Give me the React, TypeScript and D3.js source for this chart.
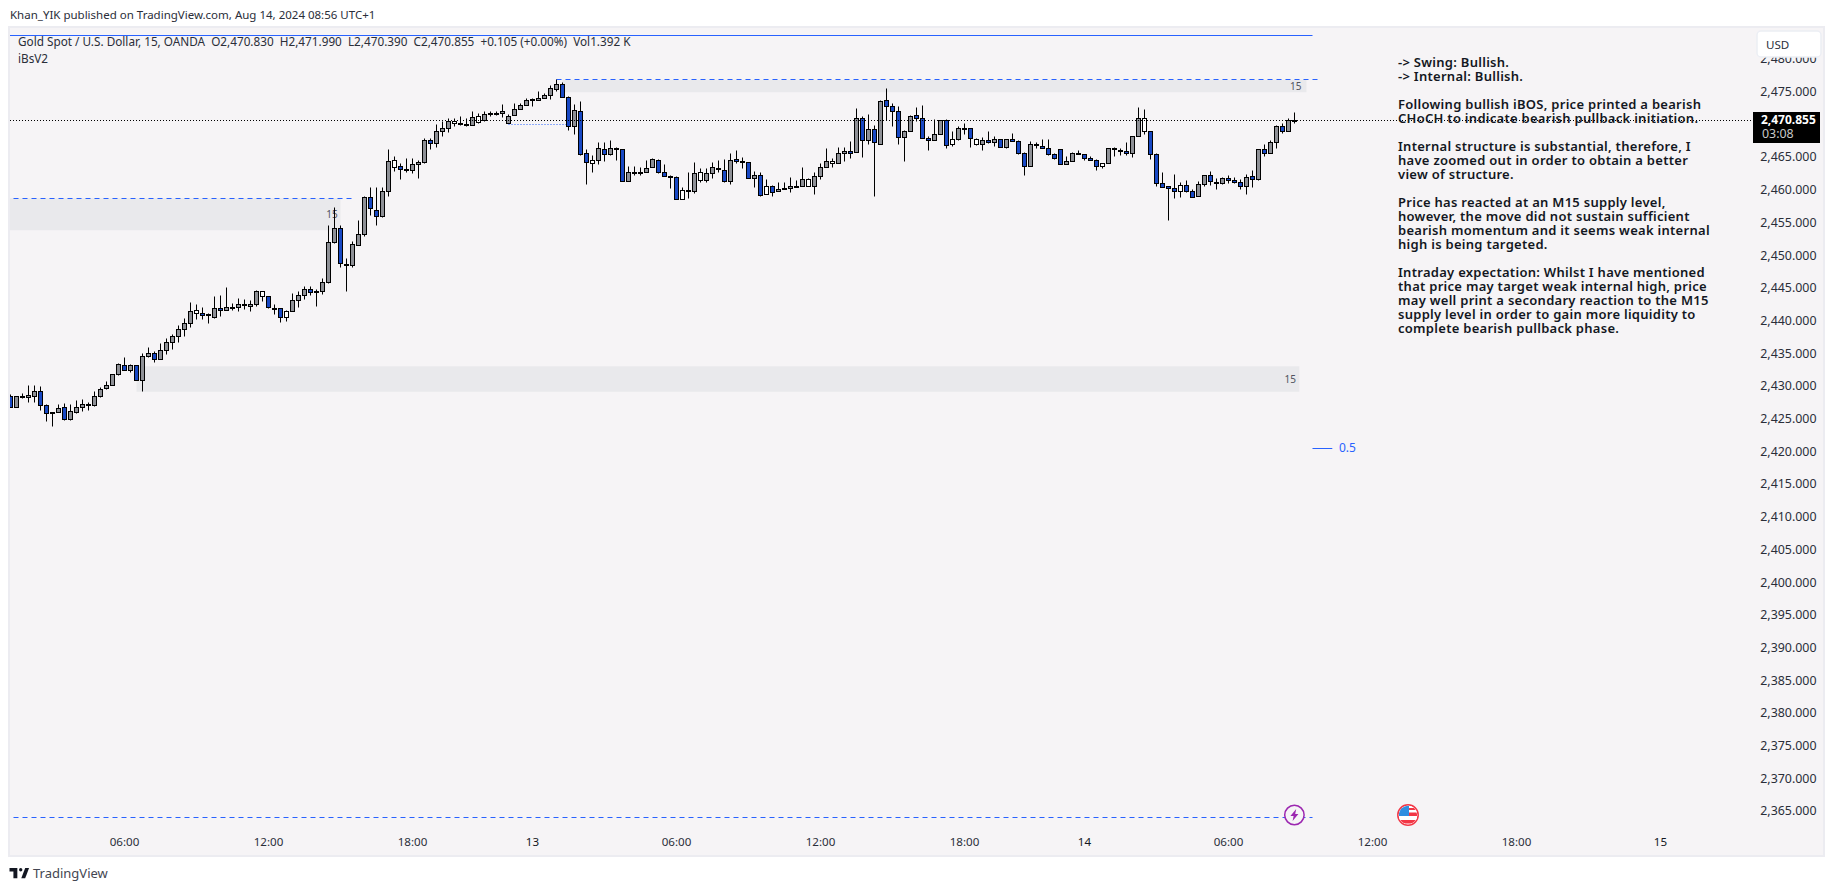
import { useEffect, useRef } from 'react';
import * as d3 from 'd3';

const width = 1835;
const height = 891;

// 15 minute bars. First bar is bar index -1 (cut by the pane edge)
const opens = [
  2428.6,2426.9,2428.6,2428.4,2428.6,2429.4,2427.2,2426.2,2426.2,2426.9,
  2425.1,2426.2,2426.9,2427.3,2427.2,2428.6,2429.8,2430.3,2432.0,2433.3,
  2432.6,2433.3,2431.0,2434.7,2435.2,2434.3,2435.6,2436.9,2437.8,2438.8,
  2439.8,2441.3,2441.3,2441.0,2440.7,2442.1,2441.8,2442.1,2442.2,2442.7,
  2442.3,2442.7,2443.9,2443.9,2442.0,2442.1,2440.6,2441.6,2443.3,2444.0,
  2445.0,2444.7,2444.7,2446.0,2452.2,2454.3,2448.8,2448.6,2451.7,2453.4,
  2459.0,2457.0,2456.1,2459.9,2463.6,2463.8,2463.3,2463.2,2464.1,2464.4,
  2467.7,2467.3,2469.1,2469.6,2470.3,2470.3,2470.2,2470.0,2470.5,2470.8,
  2471.9,2471.8,2471.9,2470.3,2471.6,2472.5,2473.1,2474.0,2473.9,2474.2,
  2474.6,2475.5,2476.3,2474.3,2469.9,2472.2,2465.8,2464.2,2464.7,2466.4,
  2465.6,2466.5,2466.4,2461.5,2462.8,2462.8,2462.9,2463.6,2464.7,2462.9,
  2462.2,2462.1,2458.7,2460.1,2460.0,2461.6,2461.6,2462.7,2463.5,2463.2,
  2461.5,2464.8,2464.5,2464.4,2461.9,2462.4,2459.5,2460.7,2460.0,2460.4,
  2460.4,2460.7,2460.7,2460.7,2460.7,2462.2,2463.6,2464.2,2464.2,2465.8,
  2466.1,2465.9,2471.1,2467.7,2469.4,2467.1,2473.9,2472.9,2472.2,2468.2,
  2469.1,2471.6,2471.1,2468.1,2467.7,2468.7,2470.8,2467.1,2467.9,2469.6,
  2469.6,2467.1,2467.1,2467.7,2467.4,2467.9,2466.7,2467.9,2467.6,2465.8,
  2463.8,2467.1,2466.8,2466.5,2465.6,2466.4,2464.1,2464.5,2465.8,2465.6,
  2465.0,2464.7,2463.8,2464.2,2466.5,2466.2,2466.1,2465.8,2468.4,2469.1,
  2469.1,2465.6,2461.2,2460.7,2460.4,2460.0,2460.9,2460.0,2459.2,2461.0,
  2462.4,2461.3,2461.2,2461.9,2461.6,2461.3,2460.7,2462.2,2461.8,2466.4,
  2465.8,2467.4,2469.9,2469.1,2470.83,
];

const closes = [
  2426.9,2428.6,2428.4,2428.8,2429.4,2427.2,2426.0,2426.1,2426.8,2425.0,
  2426.3,2426.9,2427.4,2427.4,2428.6,2429.7,2430.3,2432.0,2433.5,2432.6,
  2433.3,2431.0,2434.7,2435.2,2434.2,2435.6,2436.9,2437.8,2438.8,2439.8,
  2441.6,2441.8,2441.0,2441.1,2442.1,2441.8,2442.2,2442.2,2442.7,2442.5,
  2442.7,2444.7,2444.7,2442.2,2442.1,2440.6,2441.6,2443.3,2444.0,2445.0,
  2444.5,2444.5,2446.0,2452.2,2454.3,2448.9,2448.6,2451.8,2453.4,2459.0,
  2457.4,2456.1,2459.9,2464.5,2464.7,2463.3,2463.2,2464.1,2464.4,2467.7,
  2467.3,2469.1,2469.6,2470.6,2470.6,2470.3,2470.2,2471.3,2471.4,2471.7,
  2471.7,2471.9,2472.2,2471.4,2472.5,2473.1,2473.9,2474.0,2474.2,2474.6,
  2475.7,2476.3,2474.3,2469.9,2472.3,2465.6,2464.4,2464.7,2466.5,2465.6,
  2466.5,2466.4,2461.5,2462.9,2462.9,2462.9,2463.5,2464.8,2462.9,2462.2,
  2462.1,2458.7,2460.1,2460.0,2462.7,2462.9,2462.7,2463.6,2463.3,2461.5,
  2464.7,2464.5,2464.4,2461.9,2462.4,2459.3,2460.7,2459.8,2460.3,2460.4,
  2460.7,2460.7,2461.8,2461.8,2462.2,2463.6,2464.5,2464.5,2465.8,2466.1,
  2465.8,2471.1,2467.7,2469.4,2467.4,2473.7,2472.9,2472.2,2468.2,2469.1,
  2471.4,2471.1,2468.1,2467.7,2468.7,2470.8,2467.0,2467.9,2469.6,2469.5,
  2468.1,2467.9,2467.7,2467.4,2467.9,2466.7,2467.9,2467.6,2465.8,2463.8,
  2467.1,2467.0,2466.5,2465.6,2465.0,2464.1,2464.5,2465.8,2465.7,2465.0,
  2464.7,2463.8,2464.2,2466.5,2466.4,2466.1,2465.8,2468.4,2471.1,2471.1,
  2465.6,2461.2,2460.6,2460.4,2460.0,2460.9,2460.0,2459.0,2461.0,2462.4,
  2461.5,2461.3,2461.9,2461.6,2461.3,2460.7,2462.1,2461.8,2466.4,2465.8,
  2467.4,2469.9,2469.1,2470.8,2470.855,
];

const highs = [
  2428.9,2428.6,2429.1,2430.2,2430.3,2430.1,2427.4,2426.2,2427.3,2427.5,
  2427.4,2428.0,2428.1,2427.6,2429.4,2430.0,2430.8,2432.0,2433.6,2434.6,
  2433.5,2433.3,2435.2,2436.1,2435.5,2436.7,2437.5,2438.1,2439.4,2440.5,
  2443.0,2442.7,2442.2,2441.3,2443.9,2444.0,2445.2,2442.8,2443.5,2443.4,
  2443.2,2444.8,2444.7,2443.9,2442.7,2442.1,2441.8,2444.3,2444.7,2445.4,
  2445.4,2445.0,2446.6,2454.8,2457.5,2454.8,2449.7,2452.3,2455.5,2459.2,
  2460.6,2460.6,2460.6,2466.3,2465.3,2464.2,2465.0,2465.0,2464.7,2468.0,
  2468.0,2470.1,2470.6,2471.1,2471.1,2471.4,2471.1,2472.2,2471.9,2472.2,
  2472.2,2472.2,2473.3,2471.7,2473.4,2473.4,2474.2,2474.2,2475.2,2474.9,
  2476.2,2477.1,2476.6,2474.5,2473.3,2473.7,2466.4,2465.5,2467.4,2467.4,
  2467.7,2466.7,2466.4,2463.8,2463.8,2463.6,2464.7,2465.0,2464.8,2464.1,
  2462.4,2462.2,2460.6,2462.9,2464.4,2463.5,2463.5,2464.4,2464.7,2464.8,
  2465.8,2466.2,2465.1,2464.4,2463.0,2462.9,2461.8,2460.9,2461.3,2461.3,
  2462.1,2461.6,2463.6,2461.9,2462.9,2464.2,2466.5,2465.0,2466.7,2466.7,
  2467.6,2472.6,2471.4,2471.7,2470.0,2473.9,2475.7,2473.4,2472.9,2469.3,
  2471.6,2472.8,2473.1,2468.4,2471.0,2470.8,2471.0,2469.1,2469.9,2470.3,
  2469.6,2468.1,2468.2,2469.1,2468.4,2467.9,2467.9,2468.8,2467.7,2465.9,
  2467.6,2467.4,2467.9,2467.9,2465.8,2466.4,2465.3,2465.9,2466.2,2465.6,
  2465.3,2464.8,2464.2,2466.5,2466.7,2466.5,2467.4,2468.4,2472.7,2472.4,
  2469.1,2465.8,2462.9,2460.7,2462.5,2461.3,2461.6,2460.3,2461.5,2462.4,
  2463.0,2461.9,2462.1,2462.4,2462.1,2461.8,2462.5,2463.2,2466.4,2467.1,
  2467.7,2470.0,2470.3,2471.1,2471.99,
];

const lows = [
  2426.9,2426.9,2428.2,2427.6,2427.7,2426.4,2424.7,2424.0,2426.2,2424.9,
  2424.9,2426.0,2426.3,2426.4,2427.0,2428.4,2429.7,2430.3,2431.8,2432.6,
  2432.3,2431.0,2429.3,2434.6,2433.8,2434.3,2435.0,2435.8,2436.8,2437.7,
  2439.1,2440.3,2440.3,2439.7,2440.5,2440.8,2441.8,2441.7,2441.5,2441.9,
  2441.5,2442.3,2443.1,2442.0,2441.1,2439.9,2440.0,2441.6,2442.2,2443.4,
  2444.0,2442.3,2444.1,2445.8,2452.0,2448.3,2444.6,2448.3,2451.7,2453.0,
  2456.3,2454.7,2455.9,2459.1,2463.0,2461.7,2462.8,2462.6,2461.9,2464.2,
  2466.4,2466.6,2468.3,2468.9,2469.8,2470.0,2469.8,2470.0,2470.3,2470.6,
  2471.4,2471.6,2471.3,2470.3,2471.6,2472.5,2473.1,2472.9,2473.9,2474.2,
  2474.0,2475.2,2474.3,2469.2,2468.6,2465.4,2461.0,2462.8,2464.0,2464.5,
  2465.5,2464.6,2461.5,2461.5,2462.4,2462.4,2462.9,2463.6,2462.6,2462.2,
  2460.4,2458.7,2458.7,2458.9,2459.6,2461.3,2461.3,2461.9,2462.9,2461.3,
  2461.0,2464.2,2463.4,2461.9,2460.5,2459.1,2459.5,2459.1,2460.0,2460.3,
  2459.7,2460.5,2460.7,2460.7,2459.5,2461.7,2463.6,2463.6,2464.2,2464.5,
  2464.9,2465.9,2465.1,2467.1,2459.1,2467.1,2470.8,2469.8,2467.1,2464.5,
  2469.1,2470.6,2468.1,2466.2,2467.7,2468.7,2466.5,2466.8,2467.7,2468.6,
  2466.6,2467.0,2466.2,2467.2,2466.8,2466.7,2466.5,2467.6,2465.6,2462.3,
  2463.8,2466.5,2466.5,2465.5,2464.8,2464.1,2464.1,2464.5,2465.6,2464.6,
  2464.6,2463.1,2463.4,2464.2,2465.2,2465.5,2465.5,2465.1,2468.4,2468.6,
  2464.8,2460.7,2460.6,2455.5,2458.8,2459.0,2459.8,2459.0,2459.2,2460.7,
  2460.9,2460.2,2461.0,2461.1,2461.1,2460.2,2459.4,2460.5,2461.6,2465.3,
  2465.8,2466.5,2468.8,2469.1,2470.39,
];

// bars the picture draws with a white body
const hollowBars = [31, 42, 46, 64, 74, 78, 97, 112, 115, 126, 133, 137, 157, 161, 182, 189, 195];

// 2,470 sits behind the last price tag in the picture, so it is left out
const priceTicks = d3.range(2365, 2485, 5).filter(p => p !== 2470);
const lastPrice = 2470.855;

const timeLabels = ['06:00', '12:00', '18:00', '13', '06:00', '12:00', '18:00', '14', '06:00', '12:00', '18:00', '15'];
const timeBars = [18, 42, 66, 86, 110, 134, 158, 178, 202, 226, 250, 274];

// supply / demand boxes
const zoneStart = [-2, 20, 91];
const zoneEnd = [54, 213.8, 215];
const zoneTop = [2458.9, 2433.2, 2477.0];
const zoneBottom = [2454.0, 2429.3, 2475.1];
const zoneLabelBar = [52.6, 212.3, 213.2];

const noteLines = [
  '-> Swing: Bullish.',
  '-> Internal: Bullish.',
  '',
  'Following bullish iBOS, price printed a bearish',
  'CHoCH to indicate bearish pullback initiation.',
  '',
  'Internal structure is substantial, therefore, I',
  'have zoomed out in order to obtain a better',
  'view of structure.',
  '',
  'Price has reacted at an M15 supply level,',
  'however, the move did not sustain sufficient',
  'bearish momentum and it seems weak internal',
  'high is being targeted.',
  '',
  'Intraday expectation: Whilst I have mentioned',
  'that price may target weak internal high, price',
  'may well print a secondary reaction to the M15',
  'supply level in order to gain more liquidity to',
  'complete bearish pullback phase.',
];

const legendText = 'Gold Spot / U.S. Dollar, 15, OANDA  O2,470.830  H2,471.990  L2,470.390  C2,470.855  +0.105 (+0.00%)  Vol1.392 K';

const UI_FONT = '"Noto Sans", sans-serif';
const BLUE = '#2962ff';

export default function App() {
  const svgRef = useRef<SVGSVGElement>(null);

  useEffect(() => {
    if (!svgRef.current) return;
    const svg = d3.select(svgRef.current);
    svg.selectAll('*').remove();

    const x = d3.scaleLinear().domain([0, 100]).range([16.5, 616.5]);
    const y = d3.scaleLinear().domain([2475, 2365]).range([92.9, 812.3]);
    const crisp = (v: number) => Math.floor(v) + 0.5;

    const label = (
      parent: d3.Selection<any, unknown, null, undefined>,
      px: number,
      py: number,
      text: string,
      size = 12,
      fill = '#131722',
      anchor = 'start',
    ) =>
      parent
        .append('text')
        .attr('x', px)
        .attr('y', py)
        .attr('dy', '0.35em')
        .attr('text-anchor', anchor)
        .attr('font-family', UI_FONT)
        .attr('font-size', size)
        .attr('fill', fill)
        .style('white-space', 'pre')
        .text(text);

    svg.append('rect').attr('width', width).attr('height', height).attr('fill', '#ffffff');

    label(svg, 10, 15, 'Khan_YIK published on TradingView.com, Aug 14, 2024 08:56 UTC+1', 11.5, '#2a2e39');

    // pane
    svg.append('rect')
      .attr('x', 9).attr('y', 27).attr('width', 1815).attr('height', 829)
      .attr('fill', '#f6f4f6').attr('stroke', '#ececf1').attr('stroke-width', 2);

    const defs = svg.append('defs');
    defs.append('clipPath').attr('id', 'pane').append('rect')
      .attr('x', 10).attr('y', 28).attr('width', 1740).attr('height', 827);
    defs.append('clipPath').attr('id', 'flag').append('circle')
      .attr('cx', 1408).attr('cy', 815).attr('r', 9.2);

    const pane = svg.append('g').attr('clip-path', 'url(#pane)');

    // zones
    zoneTop.forEach((top, i) => {
      pane.append('rect')
        .attr('x', x(zoneStart[i]))
        .attr('y', y(top))
        .attr('width', x(zoneEnd[i]) - x(zoneStart[i]))
        .attr('height', y(zoneBottom[i]) - y(top))
        .attr('fill', '#e9e9ec');
    });
    zoneLabelBar.forEach((bar, i) => {
      label(pane, x(bar), (y(zoneTop[i]) + y(zoneBottom[i])) / 2, '15', 10, '#50535e', 'middle');
    });

    // price level lines
    const levels: [number, number, number, string][] = [
      [-2, 56.5, 2458.9, '5 4'],
      [90, 217, 2477.1, '5 4'],
      [82, 92, 2470.2, '1 2'],
      [-2, 216, 2364.2, '5 4'],
    ];
    levels.forEach(([a, b, p, dash]) => {
      pane.append('line')
        .attr('x1', x(a)).attr('x2', x(b))
        .attr('y1', crisp(y(p))).attr('y2', crisp(y(p)))
        .attr('stroke', BLUE).attr('stroke-dasharray', dash);
    });
    pane.append('line')
      .attr('x1', 10).attr('x2', x(216))
      .attr('y1', 35.5).attr('y2', 35.5).attr('stroke', BLUE);
    pane.append('line')
      .attr('x1', x(216)).attr('x2', x(219.3))
      .attr('y1', crisp(y(2420.7))).attr('y2', crisp(y(2420.7))).attr('stroke', BLUE);
    label(svg, 1339, y(2420.7), '0.5', 12, BLUE);

    // last price line
    svg.append('line')
      .attr('x1', 10).attr('x2', 1753)
      .attr('y1', crisp(y(lastPrice))).attr('y2', crisp(y(lastPrice)))
      .attr('stroke', '#000').attr('stroke-dasharray', '1 2');

    // candles
    const candles = pane.append('g');
    opens.forEach((open, i) => {
      const close = closes[i];
      const cx = x(i - 1);
      const top = crisp(y(Math.max(open, close)));
      const bottom = crisp(y(Math.min(open, close)));
      candles.append('line')
        .attr('x1', cx).attr('x2', cx)
        .attr('y1', Math.min(crisp(y(highs[i])), top)).attr('y2', Math.max(crisp(y(lows[i])), bottom))
        .attr('stroke', '#000');
      const fill = hollowBars.includes(i) ? '#ffffff' : close >= open ? '#8e9096' : '#1848c4';
      candles.append('rect')
        .attr('x', cx - 2).attr('width', 4)
        .attr('y', top).attr('height', Math.max(bottom - top, 1))
        .attr('fill', fill).attr('stroke', '#000');
    });

    // note
    noteLines.forEach((line, i) => {
      if (!line) return;
      label(svg, 1398, 62 + i * 14, line, 13, '#131722')
        .attr('font-weight', 600)
        .attr('letter-spacing', 0.28);
    });

    // legend
    label(svg, 18, 41.5, legendText, 11.75, '#2a2e39');
    label(svg, 18, 59, 'iBsV2', 11.75, '#2a2e39');

    // price axis
    priceTicks.forEach(p => {
      label(svg, 1788.4, y(p) - 1.2, d3.format(',.3f')(p), 12.4, '#2a2e39', 'middle');
    });

    // time axis
    timeBars.forEach((bar, i) => {
      label(svg, x(bar), 841.5, timeLabels[i], 11.6, /:/.test(timeLabels[i]) ? '#2a2e39' : '#131722', 'middle');
    });

    // USD button
    svg.append('rect')
      .attr('x', 1757).attr('y', 31).attr('width', 64).attr('height', 26).attr('rx', 4)
      .attr('fill', '#ffffff').attr('stroke', '#eceef4').attr('stroke-width', 1.5);
    label(svg, 1766, 44.5, 'USD', 11.6, '#2a2e39');

    // last price tag
    svg.append('rect')
      .attr('x', 1753).attr('y', 112).attr('width', 67).attr('height', 31).attr('fill', '#000');
    label(svg, 1788.4, 119.5, d3.format(',.3f')(lastPrice), 12, '#ffffff', 'middle').attr('font-weight', 700);
    label(svg, 1762, 133.5, '03:08', 12.4, '#c8c8c8');

    // event marks on the time scale
    svg.append('circle')
      .attr('cx', 1294.4).attr('cy', 815).attr('r', 9.7)
      .attr('fill', '#f6f4f6').attr('stroke', '#9c27b0').attr('stroke-width', 1.5);
    svg.append('path')
      .attr('transform', 'translate(1294.4,815)')
      .attr('d', 'M1.8,-6 L-4,1 L-0.8,1 L-1.8,6 L4,-1 L0.8,-1 Z')
      .attr('fill', '#9c27b0');

    svg.append('circle')
      .attr('cx', 1408).attr('cy', 815).attr('r', 10.2)
      .attr('fill', '#ffffff').attr('stroke', '#f23645').attr('stroke-width', 1.5);
    const flag = svg.append('g').attr('clip-path', 'url(#flag)');
    flag.append('rect').attr('x', 1398).attr('y', 806).attr('width', 20).attr('height', 18).attr('fill', '#ffffff');
    [[808, 2], [812.5, 3.5], [820, 3.5]].forEach(([sy, h]) => {
      flag.append('rect').attr('x', 1398).attr('y', sy).attr('width', 20).attr('height', h).attr('fill', '#f23645');
    });
    flag.append('rect').attr('x', 1399).attr('y', 805).attr('width', 10).attr('height', 11).attr('fill', '#2f8ee0');

    // logo
    const logo = svg.append('g').attr('transform', 'translate(9.5,867) scale(0.56)').attr('fill', '#131722');
    logo.append('path').attr('d', 'M14 2H0v6h7v12h7V2Z');
    logo.append('path').attr('d', 'M28 20h-7l7-18h7l-7 18Z');
    logo.append('circle').attr('cx', 20).attr('cy', 5).attr('r', 3);
    label(svg, 33, 873, 'TradingView', 13, '#434651');
  }, []);

  return (
    <svg
      ref={svgRef}
      width={width}
      height={height}
      style={{ position: 'absolute', left: 0, top: 0, display: 'block' }}
    />
  );
}
